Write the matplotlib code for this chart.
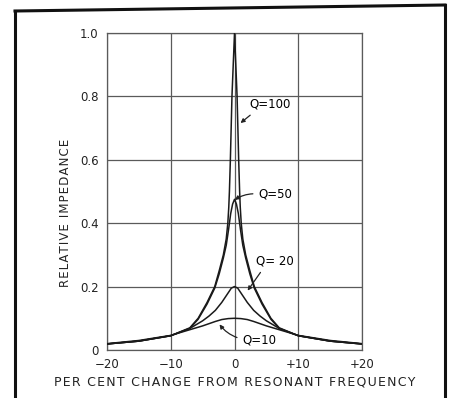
import matplotlib.pyplot as plt
from matplotlib.lines import Line2D

# per cent change from resonant frequency (right half; curves are mirrored)
q100_x = [0, 0.2, 0.4, 0.65, 0.8, 0.9, 1.05, 1.3, 1.75, 2.4, 3.1, 4.3, 5.7, 7, 10, 15, 20]
q100_y = [1.0, 0.9, 0.8, 0.6, 0.5, 0.45, 0.4, 0.35, 0.3, 0.25, 0.2, 0.15, 0.1, 0.07, 0.045, 0.028, 0.019]

q50_x = [0, 0.3, 0.6, 0.93, 1.3, 1.75, 2.4, 3.1, 4.3, 5.7, 7, 10, 15, 20]
q50_y = [0.475, 0.46, 0.43, 0.38, 0.33, 0.29, 0.24, 0.195, 0.145, 0.097, 0.068, 0.045, 0.028, 0.019]

q20_x = [0, 0.5, 1, 1.5, 2, 3, 4, 5, 7, 10, 15, 20]
q20_y = [0.2, 0.195, 0.18, 0.165, 0.15, 0.125, 0.107, 0.092, 0.068, 0.045, 0.028, 0.019]

q10_x = [0, 1, 2, 3, 4, 5, 7, 10, 15, 20]
q10_y = [0.1, 0.099, 0.096, 0.09, 0.083, 0.076, 0.064, 0.046, 0.03, 0.02]

x_ticks = [-20, -10, 0, 10, 20]
x_tick_labels = ["\u221220", "\u221210", "0", "+10", "+20"]
y_ticks = [0, 0.2, 0.4, 0.6, 0.8, 1.0]
y_tick_labels = ["0", "0.2", "0.4", "0.6", "0.8", "1.0"]


def mirror(xs, ys):
    # build the full curve from the right half
    full_x = [-v for v in xs[:0:-1]] + list(xs)
    full_y = list(ys[:0:-1]) + list(ys)
    return full_x, full_y


def spaced(s):
    # wide lettering like the original drawing
    return "\u200a".join(s)


fig = plt.figure(figsize=(4.51, 3.98), dpi=100)
ax = fig.add_axes([0.237, 0.1206, 0.566, 0.797])

grid_col = "#5a5a5a"
for xs_half, ys_half in [(q100_x, q100_y), (q50_x, q50_y), (q20_x, q20_y), (q10_x, q10_y)]:
    xs, ys = mirror(xs_half, ys_half)
    ax.plot(xs, ys, color="#1a1a1a", lw=1.1, zorder=3)

ax.set_xlim(-20, 20)
ax.set_ylim(0, 1.0)
ax.set_xticks(x_ticks)
ax.set_xticklabels(x_tick_labels)
ax.set_yticks(y_ticks)
ax.set_yticklabels(y_tick_labels)
ax.tick_params(length=0, labelsize=8.5, pad=6, colors="#222222")
ax.grid(True, color=grid_col, lw=0.9)
for sp in ax.spines.values():
    sp.set_color(grid_col)
    sp.set_linewidth(0.9)

ax.set_xlabel(spaced("PER CENT CHANGE FROM RESONANT FREQUENCY"), fontsize=9, color="#222222", labelpad=3)
ax.set_ylabel(spaced("RELATIVE IMPEDANCE"), fontsize=8.5, color="#222222")
ax.yaxis.set_label_coords(-0.137, 0.432)

arrow = dict(arrowstyle="-|>", color="#222222", lw=0.9, mutation_scale=6)
ax.annotate("Q=100", xy=(0.6, 0.71), xytext=(5.6, 0.775), fontsize=8.5, ha="center", va="center",
            arrowprops=dict(arrow, relpos=(0.15, 0.0)))
ax.annotate("Q=50", xy=(-0.3, 0.468), xytext=(6.4, 0.492), fontsize=8.5, ha="center", va="center",
            arrowprops=dict(arrow, relpos=(0.0, 0.5), connectionstyle="arc3,rad=0.2"))
ax.annotate("Q= 20", xy=(1.8, 0.18), xytext=(6.4, 0.281), fontsize=8.5, ha="center", va="center",
            arrowprops=dict(arrow, relpos=(0.2, 0.0)))
ax.annotate("Q=10", xy=(-2.6, 0.088), xytext=(3.9, 0.03), fontsize=8.5, ha="center", va="center",
            arrowprops=dict(arrow, relpos=(0.0, 0.6), connectionstyle="arc3,rad=-0.2"))

# outer frame of the printed figure
fw = 2.2
fig.add_artist(Line2D([15 / 451, 15 / 451], [0, 1 - 11 / 398], color="#111111", lw=fw))
fig.add_artist(Line2D([15 / 451, 445 / 451], [1 - 11 / 398, 1 - 5 / 398], color="#111111", lw=fw))
fig.add_artist(Line2D([445 / 451, 445 / 451], [1 - 5 / 398, 0], color="#111111", lw=fw))

fig.savefig("out.png", dpi=100)
